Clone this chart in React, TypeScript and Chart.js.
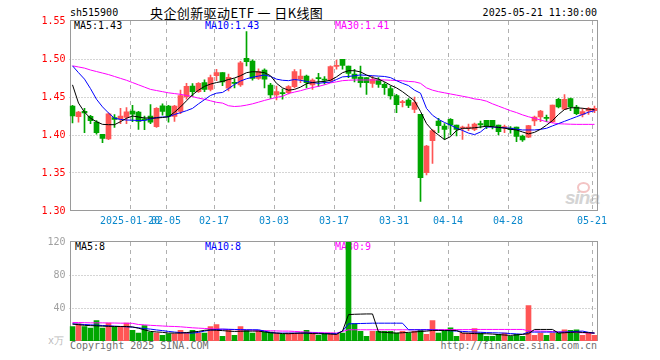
import React, { useEffect, useRef } from 'react';
import { Chart, registerables } from 'chart.js';

Chart.register(...registerables);

const dates = [
  '2025-01-06','2025-01-07','2025-01-08','2025-01-09','2025-01-10','2025-01-13','2025-01-14','2025-01-15','2025-01-16','2025-01-17',
  '2025-01-20','2025-01-21','2025-01-22','2025-01-23','2025-01-24','2025-01-27',
  '2025-02-05','2025-02-06','2025-02-07','2025-02-10','2025-02-11','2025-02-12','2025-02-13','2025-02-14','2025-02-17','2025-02-18',
  '2025-02-19','2025-02-20','2025-02-21','2025-02-24','2025-02-25','2025-02-26','2025-02-27','2025-02-28',
  '2025-03-03','2025-03-04','2025-03-05','2025-03-06','2025-03-07','2025-03-10','2025-03-11','2025-03-12','2025-03-13','2025-03-14',
  '2025-03-17','2025-03-18','2025-03-19','2025-03-20','2025-03-21','2025-03-24','2025-03-25','2025-03-26','2025-03-27','2025-03-28','2025-03-31',
  '2025-04-01','2025-04-02','2025-04-03','2025-04-07','2025-04-08','2025-04-09','2025-04-10','2025-04-11','2025-04-14','2025-04-15',
  '2025-04-16','2025-04-17','2025-04-18','2025-04-21','2025-04-22','2025-04-23','2025-04-24','2025-04-25','2025-04-28','2025-04-29','2025-04-30',
  '2025-05-06','2025-05-07','2025-05-08','2025-05-09','2025-05-12','2025-05-13','2025-05-14','2025-05-15','2025-05-16','2025-05-19','2025-05-20','2025-05-21',
];

const tickDates = ['2025-01-20','2025-02-05','2025-02-17','2025-03-03','2025-03-17','2025-03-31','2025-04-14','2025-04-28','2025-05-21'];
const tickLabels = ['2025-01-20','02-05','02-17','03-03','03-17','03-31','04-14','04-28','05-21'];

const open = [
  1.438,1.424,1.431,1.4245,1.417,1.401,1.395,1.423,1.421,1.423,
  1.4315,1.430,1.421,1.425,1.411,1.4385,1.438,1.4245,1.431,1.450,
  1.4645,1.457,1.469,1.460,1.478,1.482,1.4615,1.469,1.4658,1.501,
  1.4974,1.4746,1.4855,1.4658,1.4526,1.4555,1.4557,1.4636,1.4733,1.4776,
  1.4658,1.4755,1.4735,1.4715,1.4903,1.4996,1.4908,1.480,1.4763,1.4754,
  1.468,1.4724,1.4667,1.461,1.452,1.4425,1.446,1.4338,1.4272,1.3504,
  1.3925,1.4184,1.4118,1.4206,1.4132,1.4092,1.409,1.4075,1.4149,1.4193,
  1.4193,1.4132,1.4096,1.4092,1.4105,1.3987,1.3973,1.4184,1.4237,1.4228,
  1.4175,1.447,1.434,1.4478,1.4368,1.4272,1.4316,1.432,
];
const high = [
  1.439,1.431,1.435,1.426,1.419,1.401,1.429,1.427,1.435,1.436,
  1.439,1.431,1.425,1.440,1.436,1.441,1.439,1.439,1.459,1.468,
  1.4675,1.469,1.4725,1.479,1.4865,1.482,1.480,1.474,1.497,1.536,
  1.499,1.487,1.487,1.468,1.4645,1.4605,1.465,1.486,1.486,1.479,
  1.474,1.481,1.477,1.491,1.4985,1.4996,1.4908,1.4864,1.4908,1.4754,
  1.4776,1.4754,1.469,1.4645,1.4535,1.4456,1.4478,1.450,1.4272,1.3864,
  1.407,1.4219,1.4149,1.4215,1.4132,1.4118,1.4145,1.4158,1.4184,1.4193,
  1.4193,1.4132,1.4132,1.411,1.4105,1.400,1.4127,1.425,1.4324,1.4263,
  1.4395,1.4483,1.4531,1.4487,1.439,1.4346,1.436,1.438,
];
const low = [
  1.416,1.417,1.403,1.415,1.401,1.390,1.394,1.410,1.415,1.415,
  1.4175,1.4075,1.407,1.415,1.410,1.426,1.417,1.418,1.428,1.447,
  1.451,1.456,1.457,1.458,1.4715,1.465,1.458,1.462,1.464,1.491,
  1.472,1.473,1.462,1.448,1.446,1.447,1.454,1.462,1.469,1.462,
  1.460,1.464,1.467,1.470,1.4865,1.4865,1.4755,1.470,1.463,1.4535,
  1.4627,1.4627,1.4535,1.447,1.4294,1.4368,1.436,1.4294,1.3125,1.3474,
  1.3627,1.4031,1.3943,1.400,1.3987,1.3943,1.4056,1.4057,1.4092,1.4083,
  1.408,1.400,1.4031,1.4025,1.3912,1.3917,1.3965,1.4123,1.4175,1.4175,
  1.4162,1.4355,1.4334,1.432,1.4267,1.4237,1.4272,1.4294,
];
const close = [
  1.425,1.430,1.429,1.419,1.403,1.3955,1.428,1.4205,1.425,1.4305,
  1.4275,1.418,1.420,1.417,1.435,1.431,1.4245,1.438,1.452,1.464,
  1.457,1.468,1.460,1.4755,1.482,1.470,1.476,1.468,1.495,1.4965,
  1.4746,1.4833,1.4733,1.4526,1.457,1.4545,1.4636,1.4833,1.4776,1.4688,
  1.4724,1.474,1.472,1.4899,1.4908,1.4917,1.4811,1.4746,1.4689,1.4689,
  1.4733,1.4667,1.4623,1.4513,1.440,1.4434,1.439,1.4425,1.3438,1.3855,
  1.4057,1.4123,1.4075,1.4132,1.4075,1.4105,1.4105,1.4145,1.4132,1.4123,
  1.4123,1.4044,1.4105,1.407,1.398,1.3934,1.4123,1.4237,1.4316,1.4219,
  1.4395,1.437,1.447,1.437,1.428,1.4307,1.4351,1.435,
];

const ma5 = [
  1.466,1.442,1.430,1.422,1.4175,1.414,1.4136,1.4136,1.4175,1.422,
  1.425,1.4237,1.4224,1.4224,1.4224,1.423,1.424,1.430,1.437,1.445,
  1.453,1.459,1.464,1.467,1.469,1.4705,1.473,1.475,1.478,1.482,
  1.4833,1.483,1.482,1.478,1.468,1.462,1.459,1.460,1.463,1.4675,
  1.469,1.470,1.4705,1.472,1.4765,1.482,1.4846,1.4846,1.483,1.479,
  1.4755,1.4735,1.470,1.4655,1.462,1.457,1.451,1.445,1.431,1.415,
  1.406,1.400,1.394,1.3978,1.406,1.4088,1.4088,1.4095,1.4105,1.4115,
  1.411,1.410,1.409,1.4075,1.4066,1.404,1.4015,1.4035,1.4075,1.413,
  1.419,1.427,1.4335,1.4359,1.4357,1.4352,1.434,1.4335,
];
const ma10 = [
  1.491,1.482,1.4735,1.461,1.447,1.437,1.429,1.422,1.4205,1.4197,
  1.4195,1.419,1.419,1.421,1.423,1.4237,1.424,1.427,1.4294,1.432,
  1.435,1.441,1.4465,1.452,1.455,1.456,1.461,1.4665,1.471,1.474,
  1.476,1.4775,1.479,1.477,1.4735,1.472,1.4715,1.473,1.472,1.4705,
  1.469,1.468,1.469,1.4695,1.473,1.4765,1.477,1.478,1.479,1.4785,
  1.478,1.4775,1.477,1.4755,1.4715,1.468,1.465,1.459,1.455,1.435,
  1.426,1.4205,1.4165,1.413,1.409,1.406,1.4025,1.4005,1.404,1.4105,
  1.4105,1.410,1.4095,1.4088,1.4077,1.4066,1.4066,1.4066,1.4075,1.4088,
  1.412,1.415,1.418,1.421,1.424,1.427,1.430,1.432,
];
const ma30 = [
  1.491,1.4895,1.488,1.4855,1.4835,1.4815,1.4795,1.477,1.4745,1.472,
  1.469,1.466,1.463,1.460,1.4585,1.457,1.4555,1.4545,1.4535,1.452,
  1.4505,1.4485,1.447,1.445,1.443,1.442,1.4385,1.4375,1.438,1.4393,
  1.441,1.4432,1.4455,1.4475,1.4495,1.451,1.4545,1.4565,1.4583,1.4605,
  1.4625,1.464,1.466,1.4685,1.470,1.4715,1.472,1.4724,1.4724,1.4724,
  1.4724,1.4724,1.4724,1.472,1.4717,1.4713,1.4705,1.470,1.468,1.462,
  1.459,1.457,1.4555,1.454,1.4525,1.451,1.4495,1.4475,1.4465,1.4445,
  1.441,1.438,1.435,1.432,1.4295,1.4265,1.424,1.422,1.4197,1.4175,
  1.416,1.4148,1.4145,1.4142,1.414,1.414,1.414,1.414,
];

const volume = [
  17.6,20.8,17.6,15.6,24.8,15.6,21.6,16.8,16.8,21.6,
  12.8,9.6,18.8,10.8,9.6,6.8,8.8,8.8,12.8,10,
  12.8,9.6,9.6,17.6,20,5.6,13.6,6.8,17.6,12.8,
  9.6,12.8,10.8,10.8,9.6,8,9.6,9.6,9.6,12.8,
  9.6,6.8,8.8,9.6,8,9.6,122,21,11.6,5.6,
  11.6,11.6,11.6,11.6,9.6,11.6,9.6,11.6,12.8,8,
  24.8,9.6,11.6,16,5.6,9.6,9.6,15.2,9.6,5.6,
  5.6,8,9.6,5.6,8,5.6,42.8,6.8,9.6,6.8,
  9.6,9.6,13.6,12.8,13.6,6.8,9.6,6.8,
];
const vma5 = [
  20.5,19.8,19,18.6,18.4,18,17.8,17.6,17.6,17.6,
  17,15.5,13.5,11.6,11,10.5,9.6,9.6,9.6,10.2,
  11,11.6,13,13.4,13,12.6,12,11.6,11.8,12,
  12,12,11,10,9.6,9,8.8,9.2,9.6,9.6,
  9,8.8,8.8,8.4,8,12,32,32.4,32.6,32.8,
  32.8,11,10.5,10,9.6,10,10.5,11,11.5,12,
  12.8,12.8,12.8,12.8,12.8,9.6,9.4,9,8.8,8.8,
  8.4,7.8,7.2,6.8,7.4,8,8.8,14,14,14,
  14,9.6,10,10.4,10.8,10.4,10,9.6,
];
const vma10 = [
  20.8,20.4,20,19.6,19.2,18.8,18.4,18,17.6,17.2,
  16.8,16,15,14.4,13.4,12.6,11.6,10.8,10.2,9.8,
  9.6,10.4,12,13.2,14,14.4,14.2,14,13.8,13.6,
  13.6,13.6,12,10.4,9.6,9.6,9.6,9.6,9.6,9.6,
  9.6,9.4,9.2,9,8.8,12,20.8,21,21.2,21.4,
  21.6,21.6,21.6,21.6,21.6,21.6,13.6,13.6,13.6,13.6,
  13.4,13,12.8,12.4,12,11.6,11.2,10.8,10.6,10.2,
  10,9.8,9.6,9,8.6,8.2,10.8,10.8,10.8,10.8,
  10.8,10.8,10.8,11.2,11.6,12,10.5,9.6,
];
const vma30 = [
  22.4,22.4,22.2,22,22,22,21.8,21.8,21.6,21.6,
  21.4,20,19.6,19,18.6,18.2,17.8,17.6,17.2,16.6,
  16,15.6,15.2,14.8,14.4,14.2,14,13.8,13.6,13.4,
  13.2,12.8,12.6,12.4,12.2,12,12,11.6,11.2,10.8,
  10.4,10.2,10,9.8,9.6,11.5,13.6,13.6,13.6,13.6,
  13.6,13.6,13.6,13.6,13.6,13.6,13.6,13.6,13.6,13.8,
  13.8,13.8,13.8,13.8,13.8,13.8,13.8,14,14,14,
  14,14,14,14,14,14,12.4,12.2,12,11.8,
  11.4,11,10.8,10.5,10.2,10,9.8,9.6,
];

const priceGrid = [1.35, 1.40, 1.45, 1.50];
const volGrid = [40, 80];

const UP = '#ff5555';
const DOWN = '#00a600';
const MONO = "'DejaVu Sans Mono', 'Liberation Mono', monospace";

const barColors = dates.map((_, i) => (close[i] >= open[i] ? UP : DOWN));
const tickIndex = tickDates.map((d) => dates.indexOf(d));

function makeGridPlugin(hValues: number[]) {
  return {
    id: 'sinaGrid',
    beforeDatasetsDraw(chart: any) {
      const { ctx, chartArea: a, scales } = chart;
      const xs = scales.x;
      const ys = scales.y;
      ctx.save();
      ctx.lineWidth = 1;
      ctx.strokeStyle = '#aaaaaa';
      ctx.setLineDash([1, 2]);
      for (const v of hValues) {
        const py = Math.floor(ys.getPixelForValue(v)) + 0.5;
        ctx.beginPath();
        ctx.moveTo(a.left, py);
        ctx.lineTo(a.right, py);
        ctx.stroke();
      }
      ctx.setLineDash([4, 4]);
      ctx.strokeStyle = '#b0b0b0';
      for (const idx of tickIndex) {
        const px = Math.round(xs.getPixelForValue(idx)) - 2.5;
        ctx.beginPath();
        ctx.moveTo(px, a.top);
        ctx.lineTo(px, a.bottom);
        ctx.stroke();
      }
      ctx.setLineDash([]);
      ctx.strokeStyle = '#9a9a9a';
      const l = Math.round(a.left) + 0.5;
      const r = Math.round(a.right) - 0.5;
      const t = Math.floor(a.top) - 0.5;
      const b = Math.round(a.bottom) - 0.5;
      ctx.strokeRect(l, t, r - l, b - t);
      ctx.restore();
    },
  };
}

function PriceChart() {
  const ref = useRef<HTMLCanvasElement | null>(null);
  useEffect(() => {
    if (!ref.current) return;
    const chart = new Chart(ref.current, {
      type: 'bar',
      data: {
        labels: dates,
        datasets: [
          { type: 'line', data: ma5, borderColor: '#000000', borderWidth: 1, pointRadius: 0, order: 0, tension: 0 } as any,
          { type: 'line', data: ma10, borderColor: '#0000ff', borderWidth: 1, pointRadius: 0, order: 1, tension: 0 } as any,
          { type: 'line', data: ma30, borderColor: '#ff00ff', borderWidth: 1, pointRadius: 0, order: 2, tension: 0 } as any,
          {
            type: 'bar',
            data: dates.map((_, i) => [open[i], close[i]]),
            backgroundColor: barColors,
            barThickness: 5,
            grouped: false,
            minBarLength: 1,
            borderWidth: 0,
            order: 5,
          } as any,
          {
            type: 'bar',
            data: dates.map((_, i) => [low[i], high[i]]),
            backgroundColor: barColors,
            barThickness: 1,
            grouped: false,
            borderWidth: 0,
            order: 6,
          } as any,
        ],
      },
      options: {
        animation: false,
        responsive: false,
        maintainAspectRatio: false,
        events: [],
        layout: { padding: { top: 21, right: 62.5, left: 0, bottom: 0 } },
        plugins: { legend: { display: false }, tooltip: { enabled: false } },
        scales: {
          x: {
            type: 'category',
            offset: true,
            grid: { display: false, drawTicks: false },
            border: { display: false },
            ticks: {
              autoSkip: false,
              maxRotation: 0,
              minRotation: 0,
              color: '#0a88cc',
              padding: 4,
              labelOffset: -2.5,
              font: { family: MONO, size: 10 },
              callback: (_v: any, i: number) => {
                const k = tickIndex.indexOf(i);
                return k >= 0 ? tickLabels[k] : '';
              },
            },
            afterFit: (s: any) => { s.height = 21; },
          },
          y: {
            min: 1.3,
            max: 1.55,
            grid: { display: false, drawTicks: false },
            border: { display: false },
            ticks: {
              stepSize: 0.05,
              color: '#ff0000',
              padding: 4,
              font: { family: MONO, size: 10 },
              callback: (v: any) => Number(v).toFixed(2),
            },
            afterFit: (s: any) => { s.width = 69.5; },
          },
        },
      } as any,
      plugins: [makeGridPlugin(priceGrid)],
    });
    return () => chart.destroy();
  }, []);
  return (
    <canvas
      ref={ref}
      width={660}
      height={232}
      style={{ position: 'absolute', left: 0, top: 0, width: 660, height: 232, zIndex: 1 }}
    />
  );
}

function VolumeChart() {
  const ref = useRef<HTMLCanvasElement | null>(null);
  useEffect(() => {
    if (!ref.current) return;
    const chart = new Chart(ref.current, {
      type: 'bar',
      data: {
        labels: dates,
        datasets: [
          { type: 'line', data: vma5, borderColor: '#000000', borderWidth: 1, pointRadius: 0, order: 0, tension: 0 } as any,
          { type: 'line', data: vma10, borderColor: '#0000ff', borderWidth: 1, pointRadius: 0, order: 1, tension: 0 } as any,
          { type: 'line', data: vma30, borderColor: '#ff00ff', borderWidth: 1, pointRadius: 0, order: 2, tension: 0 } as any,
          {
            type: 'bar',
            data: volume,
            backgroundColor: barColors,
            barThickness: 5,
            grouped: false,
            borderWidth: 0,
            order: 5,
          } as any,
        ],
      },
      options: {
        animation: false,
        responsive: false,
        maintainAspectRatio: false,
        events: [],
        layout: { padding: { top: 9, right: 62.5, left: 0, bottom: 19 } },
        plugins: { legend: { display: false }, tooltip: { enabled: false } },
        scales: {
          x: {
            type: 'category',
            offset: true,
            display: false,
          },
          y: {
            min: 0,
            max: 120,
            grid: { display: false, drawTicks: false },
            border: { display: false },
            ticks: {
              stepSize: 40,
              color: '#a0a0a0',
              padding: 4,
              font: { family: MONO, size: 10 },
              callback: (v: any) => (Number(v) === 0 ? '' : String(v)),
            },
            afterFit: (s: any) => { s.width = 69.5; },
          },
        },
      } as any,
      plugins: [makeGridPlugin(volGrid)],
    });
    return () => chart.destroy();
  }, []);
  return (
    <canvas
      ref={ref}
      width={660}
      height={128}
      style={{ position: 'absolute', left: 0, top: 232, width: 660, height: 128, zIndex: 1 }}
    />
  );
}

function Txt(props: { x: number; y: number; color?: string; size?: number; family?: string; right?: boolean; children: React.ReactNode; style?: React.CSSProperties }) {
  const { x, y, color = '#000', size = 10, family = MONO, right, children, style } = props;
  const pos: React.CSSProperties = right ? { right: 660 - x } : { left: x };
  return (
    <div
      style={{
        position: 'absolute',
        top: y,
        ...pos,
        color,
        fontFamily: family,
        fontSize: size,
        lineHeight: `${size}px`,
        whiteSpace: 'pre',
        zIndex: 0,
        ...style,
      }}
    >
      {children}
    </div>
  );
}

export default function App() {
  useEffect(() => {
    document.body.style.margin = '0';
  }, []);
  return (
    <div style={{ position: 'absolute', left: 0, top: 0, width: 660, height: 360, background: '#ffffff', overflow: 'hidden' }}>
      <Txt x={70} y={8}>sh515900</Txt>
      <Txt x={150} y={5.5} size={13} family="'Noto Sans CJK SC', sans-serif" style={{ letterSpacing: '0.4px' }}>
        {'央企创新驱动ETF\u00a0一\u00a0日K线图'}
      </Txt>
      <Txt x={597} y={8} right>2025-05-21 11:30:00</Txt>
      <Txt x={74} y={21}>MA5:1.43</Txt>
      <Txt x={205} y={21} color="#0000ff">MA10:1.43</Txt>
      <Txt x={335} y={21} color="#ff00ff">MA30:1.41</Txt>
      <div
        style={{
          position: 'absolute', left: 577, top: 182, width: 9, height: 7,
          borderRadius: '50%', border: '2px solid #f3c4c4', zIndex: 0,
        }}
      />
      <Txt x={565} y={188} color="#d4d4d4" size={19} family="'Liberation Sans', sans-serif" style={{ fontStyle: 'italic', fontWeight: 'bold', letterSpacing: '-1px' }}>
        sina
      </Txt>
      <Txt x={75} y={242}>MA5:8</Txt>
      <Txt x={205} y={242} color="#0000ff">MA10:8</Txt>
      <Txt x={335} y={242} color="#ff00ff">MA30:9</Txt>
      <Txt x={48} y={336} color="#bbbbbb">x万</Txt>
      <Txt x={70} y={341} color="#707070">Copyright 2025 SINA.COM</Txt>
      <Txt x={597} y={341} color="#707070" right>http://finance.sina.com.cn</Txt>
      <PriceChart />
      <VolumeChart />
    </div>
  );
}
